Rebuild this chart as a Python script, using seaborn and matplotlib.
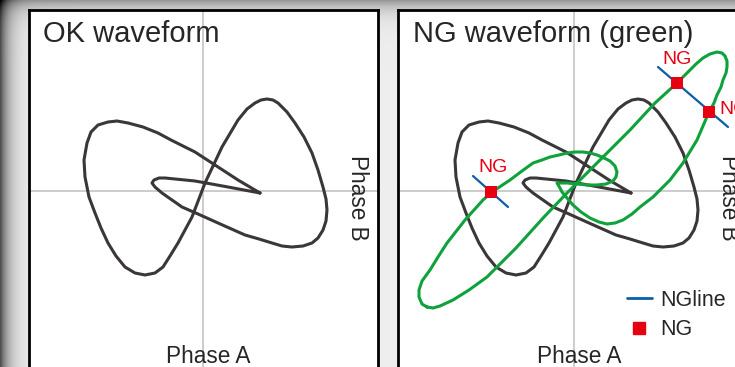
"""OK / NG waveform comparison (Lissajous style, Phase A vs Phase B)"""
import numpy as np
import pandas as pd
import matplotlib
matplotlib.use('Agg')
import matplotlib.pyplot as plt
from matplotlib.lines import Line2D
import seaborn as sns

sns.set_style('white')
plt.rcParams['font.family'] = ['Liberation Sans', 'DejaVu Sans']

# OK waveform: closed loop, Phase A / Phase B (origin = crossing of the grid lines)
ok_a = [57, 35, 12, -8, -18, -32, -45, -60, -75, -86, -95, -105, -112, -116,
        -119, -118, -114, -108, -102, -95, -87, -78, -68, -58, -48, -40, -33,
        -25, -11, 2, 19, 35, 44, 52, 58, 64, 70, 75, 84, 92, 101, 109, 115,
        120, 123, 124, 123, 120, 115, 109, 100, 89, 79, 69, 56, 42, 15, -5,
        -21, -31, -41, -48, -51, -49, -44, -38, -8, 25]
ok_b = [-2, 11, 26, 39, 44, 51, 58, 64, 68, 70, 69, 66, 59, 48,
        31, 14, -6, -22, -37, -52, -65, -76, -82, -84, -82, -76, -65,
        -52, -26, 8, 44, 71, 82, 88, 91, 92, 91, 88, 79, 68, 54, 38, 21,
        4, -8, -19, -30, -39, -47, -52, -55, -56, -55, -52, -48, -44, -32, -23,
        -16, -9, -2, 4, 8, 11, 13, 13, 10, 4]

# NG waveform (green)
ng_a = [-147, -152, -155, -155, -152, -144, -136, -127, -109, -91, -82, -73,
        -64, -52, -41, -32, -24, -15, -7, 1, 9, 16, 23, 30, 36, 41, 43, 42, 39,
        32, 23, 13, 3, -7, -17, -14, -12, -7, -1, 7, 16, 25, 33, 41, 49, 58,
        66, 79, 96, 109, 123, 135, 140, 143, 147, 149, 152, 153, 153, 151, 148,
        143, 136, 129, 122, 116, 103, 81, 56, 36, 16, -7, -30, -58, -87, -105,
        -121, -134, -141]
ng_b = [-116, -113, -106, -99, -90, -79, -66, -52, -29, -9, -1, 5,
        11, 20, 28, 31, 34, 36, 38, 39, 39, 38, 36, 33, 30, 25, 19, 14, 10,
        7, 6, 6, 7, 8, 8, 3, -1, -7, -14, -21, -27, -31, -33, -32, -29, -23,
        -16, -6, 11, 28, 51, 79, 88, 96, 104, 111, 118, 124, 130, 135, 138,
        139, 137, 133, 127, 121, 108, 88, 61, 41, 21, -2, -26, -57, -86, -99,
        -109, -115, -117]

# NG points and NG lines
ngpt_a = [-83, 103, 135]
ngpt_b = [-1, 108, 79]
ngline_seg = [0, 0, 1, 1]
ngline_a = [-101, -66, 84, 154]
ngline_b = [15, -16, 124, 64]

C_OK = '#3b3637'
C_NG = '#0ea13c'
C_LINE = '#0b5fa5'
C_RED = '#e60012'
C_GRID = '#c4c4c4'


def closed(a, b):
    return pd.DataFrame({'a': a + a[:1], 'b': b + b[:1]})


W, H = 735, 367
fig = plt.figure(figsize=(W / 100, H / 100), dpi=100)

# grey vignette behind the panels
bg = fig.add_axes([0, 0, 1, 1], zorder=-5)
xx, yy = np.meshgrid(np.arange(W), np.arange(H))
shade = 0.93 - 0.62 * np.exp(-xx / 9.0) - 0.34 * np.exp(-yy / 10.0)
bg.imshow(np.clip(shade, 0, 1), cmap='gray', vmin=0, vmax=1, aspect='auto',
          extent=(0, W, H, 0))
bg.set_axis_off()


def make_panel(left_px, cx_px):
    # pixel geometry -> figure fraction, data units = pixels from the centre
    top_px, bottom_px, width_px = 9.5, 373, 349
    ax = fig.add_axes([left_px / W, (H - bottom_px) / H, width_px / W,
                       (bottom_px - top_px) / H])
    ax.set_xlim(left_px - cx_px, left_px + width_px - cx_px)
    ax.set_ylim(191 - bottom_px, 191 - top_px)
    ax.set_xticks([])
    ax.set_yticks([])
    ax.set_facecolor('white')
    for s in ax.spines.values():
        s.set_color('black')
        s.set_linewidth(2.0)
    ax.axhline(0, color=C_GRID, lw=1.2, zorder=0)
    ax.axvline(0, color=C_GRID, lw=1.2, zorder=0)
    ax.text(5, -172, 'Phase A', ha='center', va='baseline', fontsize=16.3)
    ax.text(155, -7, 'Phase B', ha='center', va='center', rotation=270,
            fontsize=16.3)
    return ax


ax1 = make_panel(29.3, 203)
ax2 = make_panel(398.3, 574)

# left: OK waveform
sns.lineplot(data=closed(ok_a, ok_b), x='a', y='b', sort=False, estimator=None,
             color=C_OK, lw=2.2, ax=ax1)
ax1.text(-160, 149, 'OK waveform', fontsize=21, va='baseline')

# right: OK + NG waveform
sns.lineplot(data=closed(ok_a, ok_b), x='a', y='b', sort=False, estimator=None,
             color=C_OK, lw=2.2, ax=ax2)
sns.lineplot(data=closed(ng_a, ng_b), x='a', y='b', sort=False, estimator=None,
             color=C_NG, lw=2.2, ax=ax2)
seg = pd.DataFrame({'a': ngline_a, 'b': ngline_b, 'seg': ngline_seg})
sns.lineplot(data=seg, x='a', y='b', units='seg', sort=False, estimator=None,
             color=C_LINE, lw=1.6, ax=ax2)
sns.scatterplot(x=ngpt_a, y=ngpt_b, marker='s', s=80, color=C_RED,
                edgecolor='none', zorder=5, ax=ax2)
# NG labels: above the first two points, right of the third
label_off = [(2, 24, 'center'), (0, 24, 'center'), (10, 3, 'left')]
for a, b, (dx, dy, ha) in zip(ngpt_a, ngpt_b, label_off):
    ax2.text(a + dx, b + dy, 'NG', color=C_RED, fontsize=14, ha=ha,
             va='center')
ax2.text(-161, 149, 'NG waveform (green)', fontsize=21, va='baseline')

handles = [Line2D([], [], color=C_LINE, lw=2.0),
           Line2D([], [], color=C_RED, marker='s', ls='none', markersize=8.5)]
ax2.legend(handles, ['NGline', 'NG'], loc='upper left',
           bbox_to_anchor=(627 / W, 1 - 290 / H), bbox_transform=fig.transFigure,
           frameon=False, fontsize=15.5, handlelength=1.15, handletextpad=0.4,
           borderpad=0, borderaxespad=0, labelspacing=0.38)

fig.savefig('out.png', dpi=100)
